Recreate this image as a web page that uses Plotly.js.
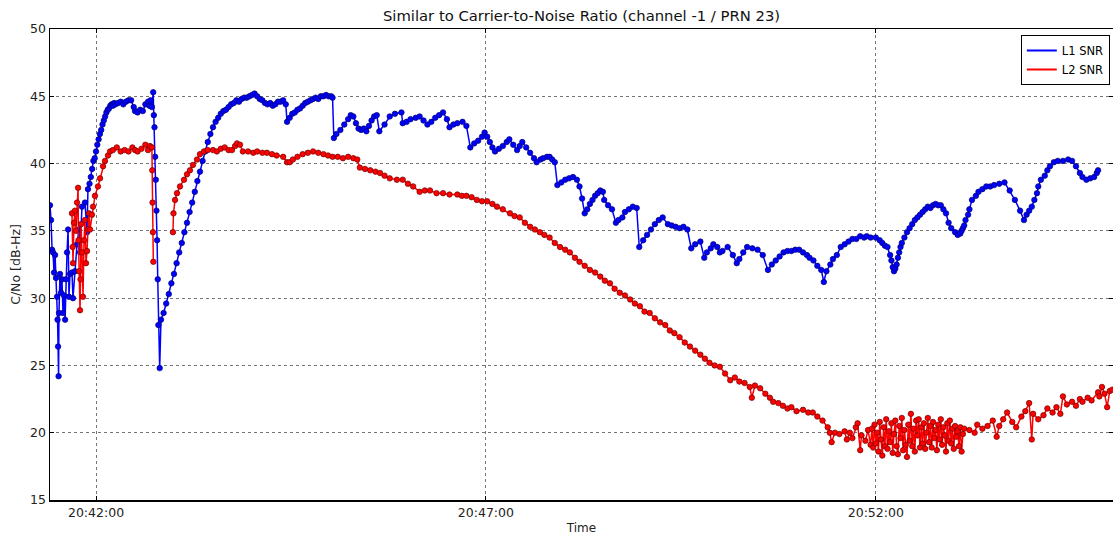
<!DOCTYPE html>
<html>
<head>
<meta charset="utf-8">
<script src="https://cdn.plot.ly/plotly-3.0.1.min.js"></script>
<style>html,body{margin:0;padding:0;background:#fff;}#chart{width:1113px;height:538px;}</style>
</head>
<body>
<div id="chart"></div>
<script>
// time base: 20:42:00, times given in seconds relative to it
const baseTime = "2014-01-01 20:42:00";
const tickLabels = ["20:42:00", "20:47:00", "20:52:00"];
const tickSeconds = [0, 300, 600];

// L1 SNR (blue)
const l1Seconds = [
-35.4,-34.6,-33.8,-33.1,-32.3,-31.5,-30.8,-30.0,-29.6,-29.2,-28.8,-28.5,-27.7,-26.9,-26.2,-25.4,-24.6,-23.8,-23.1,-22.3,-21.5,-20.8,-20.0,-18.5,-17.7,-16.2,-14.6,-13.1,-12.3,-10.8,-8.5,-6.9,-6.2,
-5,-4,-3,-2,-1,0,1,2,3,4,5,6,7,8,9,10,11,12,13,14,15,17,19,21,23,25,27,29,30,32,34,36,38,40,41,42,43,44,44.5,45,45.5,46,46.5,47,47.5,48,49,50,
52,54,56,58,60,62,64,66,68,70,72,74,76,78,80,82,84,86,88,90,92,94,96,98,100,102,104,106,108,110,112,114,116,118,120,122,124,126,128,130,132,134,136,138,140,142,144,146,147,149,151,153,155,157,159,161,163,165,167,169,171,173,175,177,179,181,182,183,185,188,191,194,196,198,200,202,204,206,208,210,212,214,216,
218,222,226,230,235,236,239,242,246,249,252,255,258,261,264,267,270,272,275,278,282,285,288,291,294,297,299,301,303,305,307,310,313,316,318,321,324,326,328,331,334,337,339,342,344,347,349,351,353,355,358,361,364,367,370,372,374,376,378,380,382,384,386,388,390,391,394,397,400,402,405,407,410,413,416,418,421,424,427,430,433,436,440,443,446,449,452,455,458,461,465,468,470,473,475,478,480,482,486,490,493,495,498,501,505,509,513,517,520,523,526,529,532,535,538,541,544,547,549,552,555,558,560,562,565,567,570,573,576,579,582,585,588,591,593,596,600,603,605,607,609,611,612,613,614,615,616,617,618,619,620,622,624,626,628,630,632,634,636,638,640,642,644,646,648,650,652,654,656,658,661,663,665,666,667,668,669,671,672,674,677,679,682,685,688,691,695,699,703,707,711,714,716,718,720,722,724,725,727,730,732,734,737,740,744,748,751,754,757,759,762,765,768,770,771,772,774,776,778,780,783,786];
const l1Values = [
36.9,35.8,33.6,33.4,31.9,33.2,31.5,30.1,28.4,26.4,24.2,28.9,31.8,30.4,31.4,28.9,30.2,28.4,31.4,33.4,35.1,30.1,31.8,31.9,30.0,32.0,34.0,35.1,33.4,36.8,37.1,34.9,38.1,
38.5,39.0,39.6,40.2,40.4,40.9,41.4,41.8,42.2,42.5,42.9,43.2,43.5,43.8,44.0,44.1,44.3,44.4,44.3,44.5,44.4,44.5,44.6,44.4,44.6,44.7,44.7,44.2,43.9,43.8,44.0,43.9,44.4,44.6,44.3,44.7,44.2,45.3,43.6,42.7,40.5,38.8,36.5,34.3,31.4,28.0,24.8,28.4,
28.9,29.6,30.3,31.1,31.8,32.6,33.4,34.1,34.9,35.6,36.4,37.1,37.9,38.7,39.4,40.2,40.9,41.6,42.2,42.7,43.1,43.4,43.7,43.9,44.0,44.2,44.4,44.5,44.7,44.6,44.8,44.9,44.9,45.0,45.1,45.2,45.0,44.8,44.7,44.5,44.4,44.5,44.3,44.4,44.6,44.6,44.7,44.4,43.1,43.4,43.7,43.8,44.0,44.1,44.3,44.5,44.6,44.7,44.8,44.9,44.8,45.0,45.0,45.1,45.0,45.0,44.9,41.9,42.2,42.5,42.9,43.3,43.6,43.5,43.0,42.6,42.5,42.6,42.4,42.8,43.2,43.5,43.6,
42.4,42.9,43.5,43.7,43.8,43.0,43.1,43.3,43.4,43.5,43.2,42.9,43.1,43.4,43.6,43.8,43.3,42.7,42.9,43.0,43.1,42.8,41.2,41.5,41.7,42.0,42.3,42.0,41.6,41.2,40.9,41.1,41.3,41.6,41.8,41.4,41.0,41.3,41.6,41.2,40.8,40.4,40.1,40.3,40.4,40.5,40.5,40.3,40.1,38.4,38.6,38.8,38.9,39.0,38.8,38.3,37.4,36.3,36.6,37.0,37.3,37.6,37.8,38.0,37.9,37.3,36.9,36.6,35.6,35.8,36.0,36.4,36.6,36.8,36.7,33.8,34.3,34.7,35.1,35.5,35.8,36.0,35.5,35.4,35.3,35.2,35.3,35.1,33.7,34.0,34.2,33.0,33.4,33.7,34.0,33.8,33.4,33.5,33.8,33.2,32.6,32.9,33.4,33.8,33.7,33.6,33.2,32.1,32.5,32.8,33.1,33.4,33.5,33.5,33.6,33.6,33.4,33.2,33.0,32.8,32.4,32.1,31.2,32.0,32.5,32.9,33.2,33.8,34.0,34.2,34.4,34.4,34.6,34.5,34.6,34.5,34.5,34.3,34.1,33.9,33.8,33.2,32.8,32.3,32.0,32.2,32.5,33.0,33.4,33.8,34.1,34.5,34.9,35.2,35.5,35.8,36.0,36.2,36.4,36.6,36.8,36.7,36.9,37.0,36.9,36.9,36.6,36.3,35.6,35.2,34.9,34.7,34.8,35.0,35.2,35.4,35.8,36.2,36.6,37.3,37.6,37.9,38.1,38.3,38.3,38.4,38.5,38.6,38.0,37.3,36.5,35.8,36.2,36.5,36.8,37.3,37.8,38.3,38.8,39.1,39.5,39.8,40.1,40.2,40.2,40.3,40.2,39.8,39.3,39.0,38.8,38.9,39.0,39.3,39.5];

// L2 SNR (red); null marks the data gap
const l2Seconds = [
-18.5,-18,-17.7,-16.9,-16.2,-15.4,-14.6,-13.8,-13.5,-13.1,-12.3,-11.9,-11.5,-10.8,-10.0,-9.2,-8.5,-7.7,-6.9,-6.2,-5.4,-4.6,-3.1,-2.3,-0.8,1.5,3.1,5.4,6.9,9.2,10.8,13,16,19,22,25,28,30,32,35,38,40,41.5,43,43.3,43.5,43.8,44.1,
50,
59.2,59.6,60.8,62.3,64.6,67.7,70,72.3,74.6,77.7,80,83,86,90,93,96,99,102,104.6,107,108.5,110.8,113,117,121,124,128,131.5,135.4,139,144,147,149,151.5,155,159,163,167,171,175,178.5,182,186,190,194,198,201,203,207,211,215,218.5,222,226,231.5,236,240,244,249,253,257,262,267,272,278,281.5,285,289,293,297,301,305,308.5,313,318.5,322,326,330,334,337.7,341.5,345,349,353,357,361,364.6,368.5,372,376,380,384,388,391.5,395.4,399,403,407,411,414.6,418.5,422,426,430,434,438,441.5,445,449,453,457,461,465,468.5,472,476,480,484,488,491.5,495,499,503,504.6,507,511,515,518.5,521,525,528.5,532,535,539,544,548,551.5,555,559,563,564.6,566,568.5,572,576,577.7,580,582,584.6,586,588,589,592,594,596,
597,598,599,600,601,602,603,604,605,606,607,608,609,610,611,612,613,614,615,616,617,618,619,620,621,622,623,624,625,626,627,628,629,630,631,632,633,634,635,636,637,638,639,640,641,642,643,644,645,646,647,648,649,650,651,652,653,654,655,656,657,658,659,660,661,662,663,664,665,666,667,668,
672,676,678,682,686,690,693,695,698,701,705,708,712,715,718,720,721,725,729,732,736,739,742,744,747,751,754,757,759,763,766,771,772,774,776,778,780,782,786];
const l2Values = [
36.3,33.8,32.6,35.6,36.5,35.0,37.1,38.2,34.3,32.0,29.1,31.4,35.5,33.4,30.1,34.3,35.8,32.6,33.5,35.1,36.3,35.1,36.2,36.8,37.6,38.3,38.9,39.8,40.2,40.6,40.9,41.0,41.2,40.9,41.0,40.9,41.2,41.0,40.9,41.1,41.4,41.0,41.3,41.2,39.5,37.1,34.9,32.7,
null,
34.9,36.3,37.3,37.8,38.3,38.8,39.2,39.5,39.9,40.3,40.7,40.9,41.0,41.0,40.9,41.1,41.2,41.0,41.0,41.3,41.5,41.4,40.9,40.9,40.8,40.9,40.8,40.8,40.7,40.6,40.5,40.1,40.1,40.3,40.5,40.7,40.8,40.9,40.8,40.7,40.6,40.5,40.5,40.4,40.5,40.4,40.3,39.7,39.6,39.5,39.4,39.3,39.1,38.9,38.8,38.8,38.5,38.3,37.9,38.0,38.0,37.8,37.8,37.7,37.7,37.6,37.6,37.5,37.3,37.2,37.2,37.0,36.8,36.6,36.3,36.1,36.0,35.6,35.3,35.1,34.9,34.7,34.5,34.1,33.8,33.6,33.4,33.0,32.7,32.4,32.1,31.9,31.6,31.3,31.1,30.7,30.4,30.2,29.9,29.6,29.4,29.0,28.9,28.5,28.2,28.0,27.6,27.4,27.1,26.7,26.4,26.1,25.8,25.5,25.2,25.0,24.9,24.4,23.9,24.1,23.8,23.7,23.4,22.6,23.5,23.3,22.9,22.6,22.3,22.2,22.0,21.8,21.9,21.6,21.7,21.5,21.5,21.2,20.9,20.4,20.0,19.3,20.0,19.9,20.1,19.5,20.0,19.6,20.4,20.7,18.7,19.8,19.4,20.2,19.1,
20.3,18.9,20.6,19.2,20.0,18.6,20.8,19.5,18.3,20.4,19.0,21.0,18.8,20.1,19.3,20.7,18.5,19.9,20.9,19.0,18.4,20.5,19.6,21.1,18.7,20.2,19.1,18.2,20.6,19.4,21.4,19.0,20.3,18.6,20.9,19.8,21.0,18.9,20.4,19.2,20.7,18.8,20.0,21.1,19.3,20.5,18.9,20.8,19.6,20.2,18.7,20.6,19.5,21.0,19.1,20.4,19.8,18.6,20.7,19.4,20.9,19.2,20.3,18.8,20.5,19.7,20.1,19.0,20.4,18.6,19.9,20.3,
20.2,20.0,20.6,20.3,20.5,20.9,19.7,20.5,21.0,21.5,20.8,20.4,21.2,21.6,22.2,19.5,21.4,21.0,21.3,21.8,21.5,21.9,21.4,22.7,22.1,22.3,22.0,22.5,22.3,22.6,22.4,23.0,22.7,23.4,22.9,21.9,23.1,23.2,23.3];

const yTicks = [15, 20, 25, 30, 35, 40, 45, 50];
const xRangeSeconds = [-35.4, 782.5];
const yRange = [15, 50];

const baseMs = Date.UTC(2014, 0, 1, 20, 42, 0);
const toMs = s => (s === null ? null : baseMs + s * 1000);

const font = "DejaVu Sans, Liberation Sans, sans-serif";

const traces = [
  {x: l1Seconds.map(toMs), y: l1Values, mode: 'lines+markers', name: 'L1 SNR', showlegend: false,
   line: {color: '#0000ff', width: 1.5}, marker: {color: '#0000ff', size: 5.5, line: {color: '#000070', width: 0.7}}},
  {x: l2Seconds.map(toMs), y: l2Values, mode: 'lines+markers', name: 'L2 SNR', showlegend: false, connectgaps: false,
   line: {color: '#ff0000', width: 1.5}, marker: {color: '#ff0000', size: 5.5, line: {color: '#700000', width: 0.7}}},
  // legend entries (line only, as in the reference)
  {x: [null], y: [null], mode: 'lines', name: 'L1 SNR', line: {color: '#0000ff', width: 2}},
  {x: [null], y: [null], mode: 'lines', name: 'L2 SNR', line: {color: '#ff0000', width: 2}}
];

const layout = {
  width: 1113, height: 538,
  margin: {l: 50, r: 0, t: 29, b: 38},
  paper_bgcolor: '#ffffff', plot_bgcolor: '#ffffff',
  font: {family: font, size: 12, color: '#000'},
  title: {text: 'Similar to Carrier-to-Noise Ratio (channel -1 / PRN 23)', font: {family: font, size: 14.8, color: '#111'},
          x: 0.5, xref: 'paper', y: 1 - 16/538, yanchor: 'middle'},
  xaxis: {
    type: 'date', range: xRangeSeconds.map(toMs),
    tickvals: tickSeconds.map(toMs), ticktext: tickLabels,
    showline: true, linecolor: '#000', linewidth: 1.5, mirror: 'ticks',
    ticks: 'inside', ticklen: 4, tickcolor: '#000',
    showgrid: true, gridcolor: '#777', griddash: 'dot', gridwidth: 1,
    zeroline: false, tickfont: {size: 12.5, color: '#222'},
    title: {text: 'Time', font: {size: 12, color: '#222'}, standoff: 5}
  },
  yaxis: {
    range: yRange, tickvals: yTicks,
    showline: true, linecolor: '#000', linewidth: 1.5, mirror: 'ticks',
    ticks: 'inside', ticklen: 4, tickcolor: '#000',
    showgrid: true, gridcolor: '#777', griddash: 'dot', gridwidth: 1,
    zeroline: false, tickfont: {size: 12.5, color: '#222'},
    title: {text: 'C/No [dB-Hz]', font: {size: 12.5, color: '#222'}, standoff: 6}
  },
  showlegend: true,
  legend: {x: 0.997, xanchor: 'right', y: 0.987, yanchor: 'top', bgcolor: '#fff', bordercolor: '#000', borderwidth: 1,
           font: {size: 11.5}, tracegroupgap: 0, itemwidth: 30}
};

Plotly.newPlot('chart', traces, layout, {displayModeBar: false, staticPlot: true});
</script>
</body>
</html>
